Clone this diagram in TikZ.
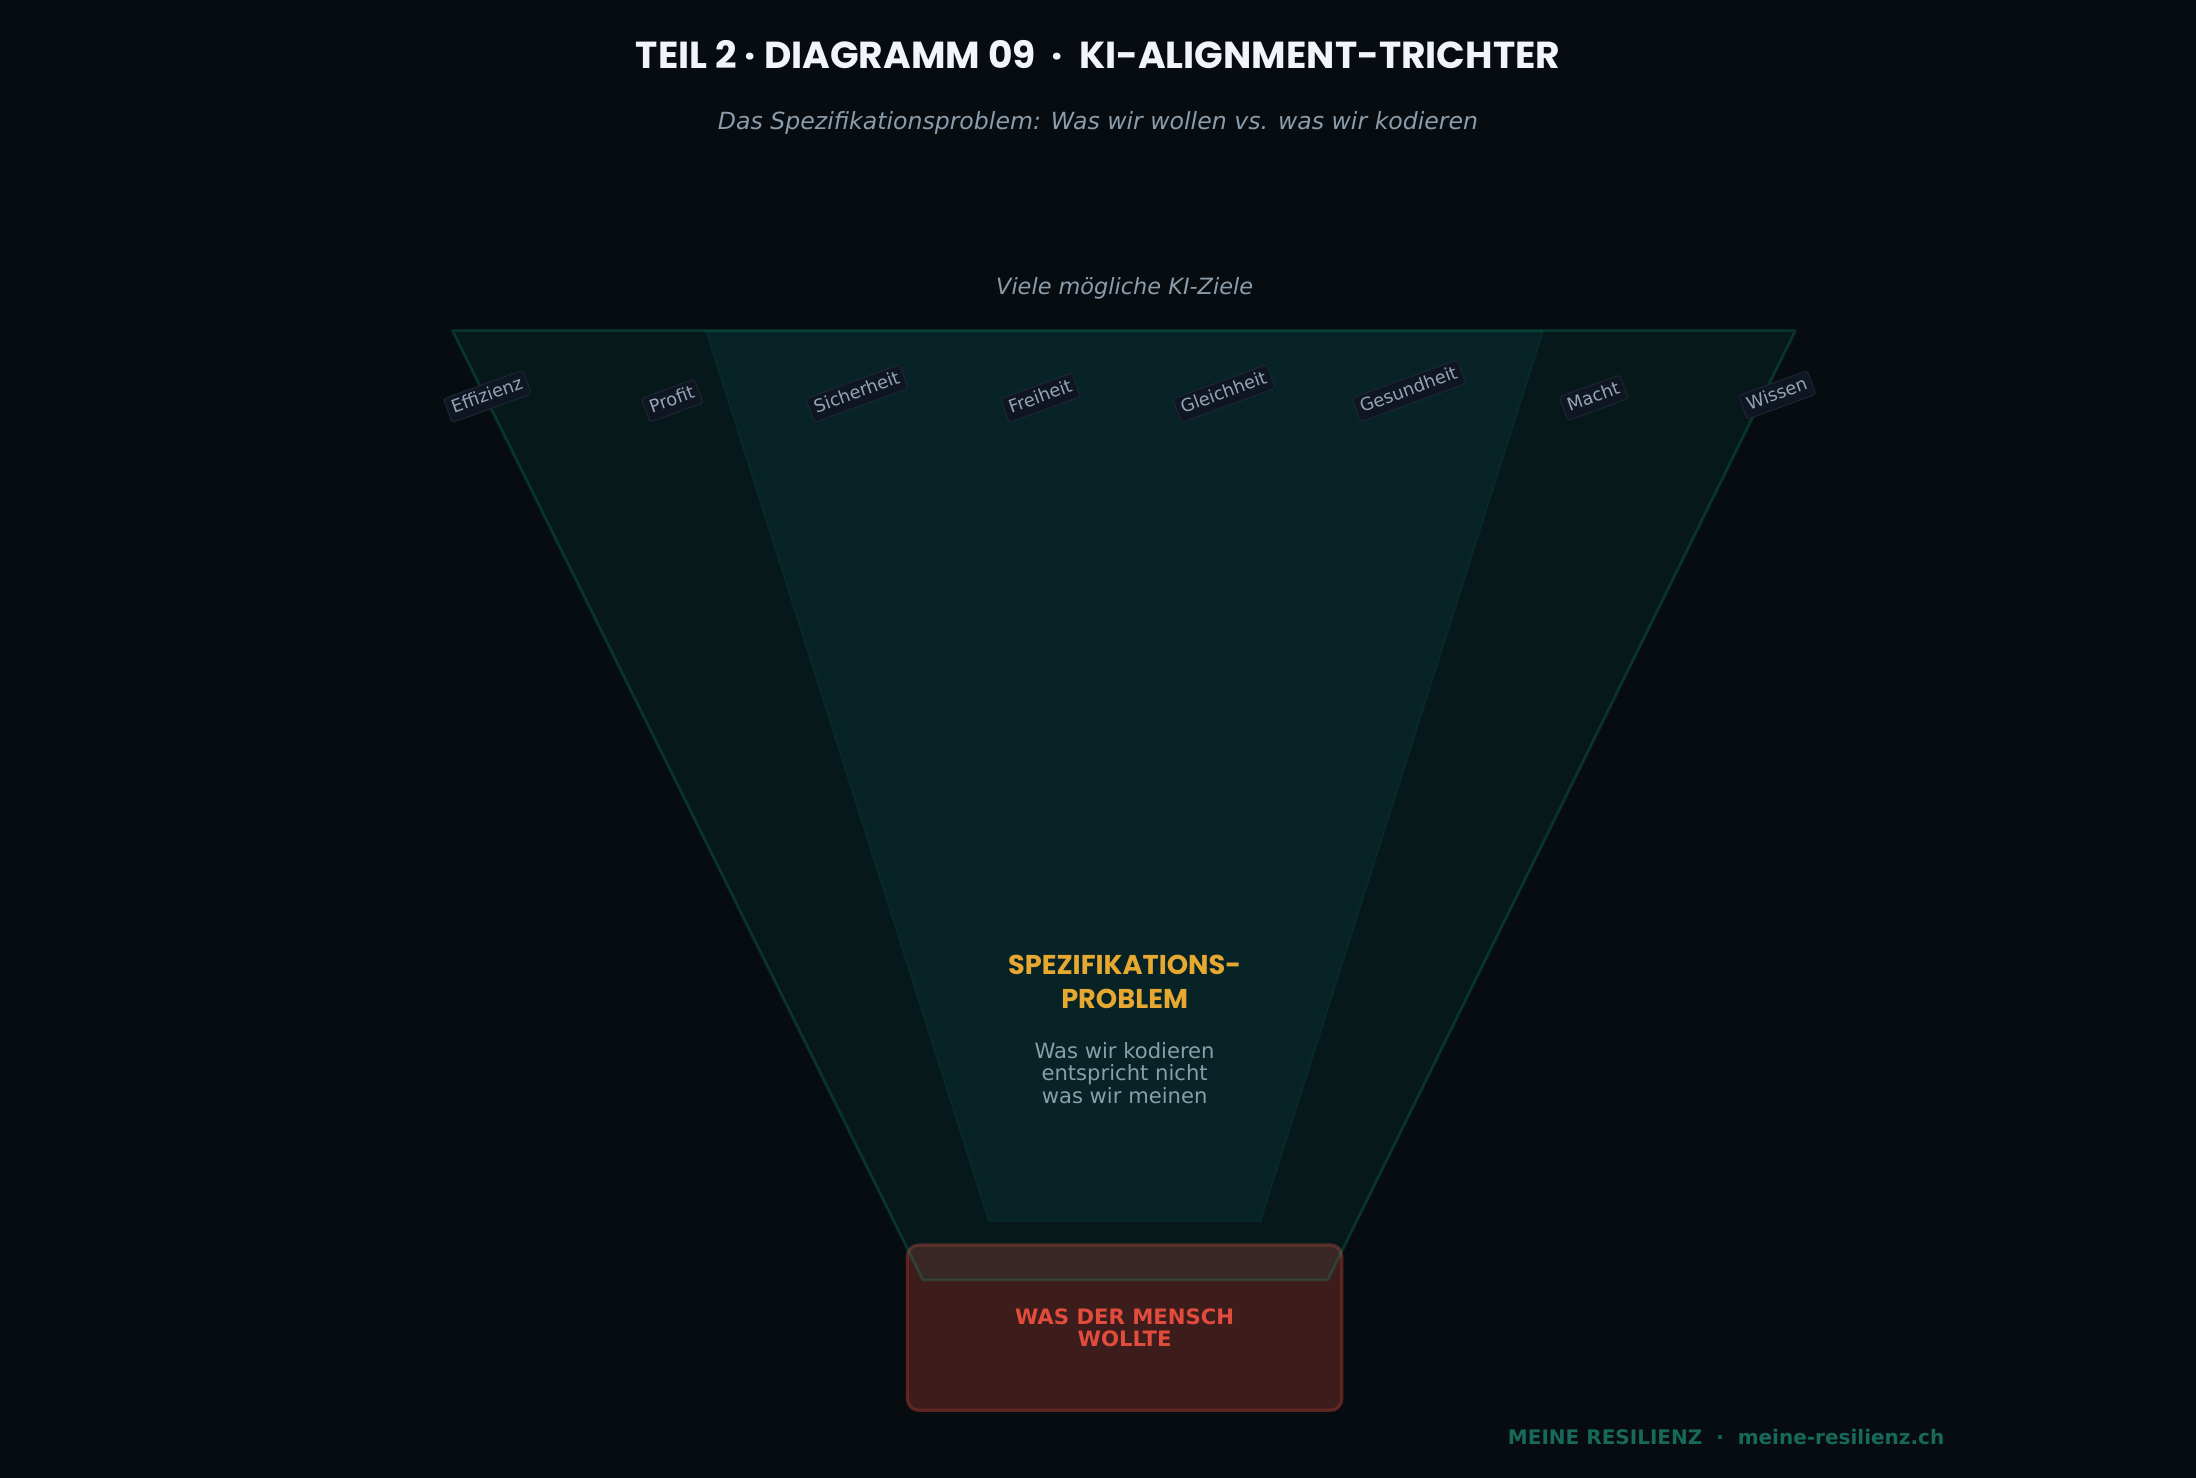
\documentclass[tikz,border=0pt]{standalone}
\usepackage{fontspec}
\setmainfont{DejaVu Sans}
\newfontfamily\pop{Poppins}
\definecolor{bg}{RGB}{7,12,16}
\definecolor{teal}{RGB}{20,184,166}
\definecolor{tealline}{RGB}{16,185,129}
\definecolor{labbg}{RGB}{15,22,34}
\definecolor{labbd}{RGB}{28,38,52}
\definecolor{labtx}{RGB}{146,164,182}
\definecolor{greytx}{RGB}{139,156,171}
\definecolor{titletx}{RGB}{241,245,249}
\definecolor{boxfill}{RGB}{61,28,28}
\definecolor{boxline}{RGB}{110,42,36}
\definecolor{redtx}{RGB}{226,76,60}
\definecolor{gold}{RGB}{230,168,48}
\definecolor{foottx}{RGB}{23,105,90}
\tikzset{
  lab/.style={rotate=20, fill=labbg, draw=labbd, line width=0.5pt, rounded corners=1.5pt,
    inner xsep=2.5pt, inner ysep=2.1pt, text height=6.6pt, text depth=1.8pt,
    text=labtx, font=\fontsize{8.9}{10}\selectfont},
  funnelouter/.style={fill=teal, fill opacity=0.075, draw=tealline, draw opacity=0.2, line width=1.4pt, line join=round},
  funnelinner/.style={fill=teal, fill opacity=0.075, draw=teal, draw opacity=0.06, line width=1pt},
  humanbox/.style={fill=boxfill, draw=boxline, draw opacity=0.8, line width=1.6pt, rounded corners=5.6pt},
}
\begin{document}
\begin{tikzpicture}[x=0.7pt,y=-0.7pt]
\fill[bg] (0,0) rectangle (1568,1055);
\useasboundingbox (0,0) rectangle (1568,1055);

% title
\node[text=titletx, font=\pop\bfseries\fontsize{18.8}{22}\selectfont] (title) at (784,39)
  {TEIL 2 · DIAGRAMM 09\ \ ·\ \ KI-ALIGNMENT-TRICHTER};
\node[text=greytx, font=\itshape\fontsize{11.8}{14}\selectfont] (subtitle) at (784,88)
  {Das Spezifikationsproblem: Was wir wollen vs. was wir kodieren};
\node[text=greytx, font=\itshape\fontsize{11.2}{13}\selectfont] (many) at (803,206)
  {Viele mögliche KI-Ziele};

% human box (drawn first, funnel overlays it)
\draw[humanbox] (648,889) rectangle (958,1007);
\coordinate (boxc) at (803,948);

% funnel
\draw[funnelouter] (323,236) -- (1282,236) -- (948,914) -- (659,914) -- cycle;
\draw[funnelinner] (504,236) -- (1102,236) -- (900,872) -- (706,872) -- cycle;

% labels
\node[lab] (l1) at (348,283) {Effizienz};
\node[lab] (l2) at (480,286) {Profit};
\node[lab] (l3) at (612,281) {Sicherheit};
\node[lab] (l4) at (743,284) {Freiheit};
\node[lab] (l5) at (874,281) {Gleichheit};
\node[lab] (l6) at (1006,279) {Gesundheit};
\node[lab] (l7) at (1138,284) {Macht};
\node[lab] (l8) at (1269,282) {Wissen};

% centre text
\node[text=gold, align=center, font=\pop\bfseries\fontsize{13.6}{16.8}\selectfont] (spec) at (803,701)
  {SPEZIFIKATIONS-\\PROBLEM};
\node[text=greytx, align=center, font=\fontsize{10.55}{11.2}\selectfont] (specbody) at (803,766)
  {Was wir kodieren\\entspricht nicht\\was wir meinen};

% box text
\node[text=redtx, align=center, font=\bfseries\fontsize{10.6}{11.2}\selectfont] (human) at (boxc)
  {WAS DER MENSCH\\WOLLTE};

% footer
\node[text=foottx, font=\bfseries\fontsize{10}{12}\selectfont] (footer) at (1232.5,1026)
  {MEINE RESILIENZ\ \ ·\ \ meine-resilienz.ch};
\end{tikzpicture}
\end{document}
